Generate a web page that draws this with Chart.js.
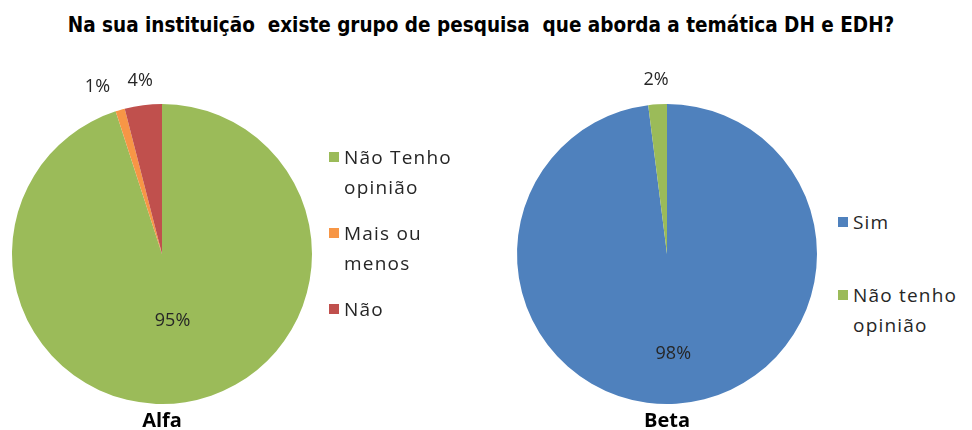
<!DOCTYPE html>
<html>
<head>
<meta charset="utf-8">
<script src="https://cdn.jsdelivr.net/npm/chart.js@4.4.1/dist/chart.umd.min.js"></script>
<style>
  html, body { margin: 0; padding: 0; background: #fff; }
  #wrap { position: relative; width: 972px; height: 430px; overflow: hidden; font-family: 'Open Sans', sans-serif; color: #262626; }
  #title { position: absolute; top: 13px; left: 0; width: 962px; text-align: center; font-family: 'DejaVu Sans Condensed', sans-serif; font-weight: bold; font-size: 20.5px; color: #000; }
  canvas { position: absolute; top: 0; }
  .legend { position: absolute; font-size: 19px; line-height: 30px; letter-spacing: 1.2px; }
  .legend .item { position: relative; padding-left: 17px; width: 130px; }
  .legend .sw { position: absolute; left: 2px; top: 10px; width: 10px; height: 10px; }
</style>
</head>
<body>
<div id="wrap">
  <div id="title">Na sua instituição&nbsp; existe grupo de pesquisa&nbsp; que aborda a temática DH e EDH?</div>
  <canvas id="alfa" width="330" height="430" style="left:0px;width:330px;height:430px"></canvas>
  <canvas id="beta" width="334" height="430" style="left:500px;width:334px;height:430px"></canvas>
  <div class="legend" id="legAlfa" style="left:327px;top:142px"></div>
  <div class="legend" id="legBeta" style="left:836px;top:207px"></div>
</div>
<script>
// dados
const ALFA_LABELS = ['Não Tenho opinião', 'Mais ou menos', 'Não'];
const ALFA_VALUES = [95, 1, 4];
const ALFA_COLORS = ['#9BBB59', '#F79646', '#C0504D'];

const BETA_LABELS = ['Sim', 'Não tenho opinião'];
const BETA_VALUES = [98, 2];
const BETA_COLORS = ['#4F81BD', '#9BBB59'];

// rótulos de percentagem + nome do gráfico em baixo
const pieLabels = {
  id: 'pieLabels',
  afterDatasetsDraw(chart, args, opts) {
    const {ctx} = chart;
    const meta = chart.getDatasetMeta(0);
    const values = chart.data.datasets[0].data;
    const total = values.reduce((a, b) => a + b, 0);
    ctx.save();
    ctx.textAlign = 'center';
    ctx.textBaseline = 'middle';
    ctx.font = '18px "Open Sans", sans-serif';
    ctx.fillStyle = '#262626';
    let cx = 0, cy = 0, r = 0;
    meta.data.forEach((arc, i) => {
      const p = arc.getProps(['x', 'y', 'startAngle', 'endAngle', 'outerRadius'], true);
      cx = p.x; cy = p.y; r = p.outerRadius;
      const pct = values[i] / total;
      const mid = (p.startAngle + p.endAngle) / 2;
      let dist = pct > 0.5 ? r * opts.inside : r + 24;
      let x = p.x + Math.cos(mid) * dist;
      let y = p.y + Math.sin(mid) * dist;
      if (pct <= 0.5 && opts.shift) x += opts.shift[i] || 0;
      ctx.fillText(Math.round(pct * 100) + '%', x, y);
    });
    ctx.font = 'bold 20px "Open Sans", sans-serif';
    ctx.fillStyle = '#000';
    ctx.fillText(opts.name, cx, cy + r + 17);
    ctx.restore();
  }
};

function makePie(id, labels, values, colors, padding, opts) {
  new Chart(document.getElementById(id), {
    type: 'pie',
    data: {
      labels: labels,
      datasets: [{ data: values, backgroundColor: colors, borderWidth: 0 }]
    },
    options: {
      responsive: false,
      animation: false,
      layout: { padding: padding },
      plugins: {
        legend: { display: false },
        tooltip: { enabled: false },
        pieLabels: opts
      }
    },
    plugins: [pieLabels]
  });
}

function makeLegend(id, labels, colors, gap) {
  const el = document.getElementById(id);
  labels.forEach((lab, i) => {
    const d = document.createElement('div');
    d.className = 'item';
    d.style.marginBottom = gap + 'px';
    d.innerHTML = '<span class="sw" style="background:' + colors[i] + '"></span>' + lab;
    el.appendChild(d);
  });
}

makePie('alfa', ALFA_LABELS, ALFA_VALUES, ALFA_COLORS,
  { left: 12, right: 18, top: 104, bottom: 26 },
  { name: 'Alfa', inside: 0.45, shift: [0, -16, 0] });
makePie('beta', BETA_LABELS, BETA_VALUES, BETA_COLORS,
  { left: 17, right: 17, top: 104, bottom: 26 },
  { name: 'Beta', inside: 0.67 });

makeLegend('legAlfa', ALFA_LABELS, ALFA_COLORS, 16);
makeLegend('legBeta', BETA_LABELS, BETA_COLORS, 43);
</script>
</body>
</html>
